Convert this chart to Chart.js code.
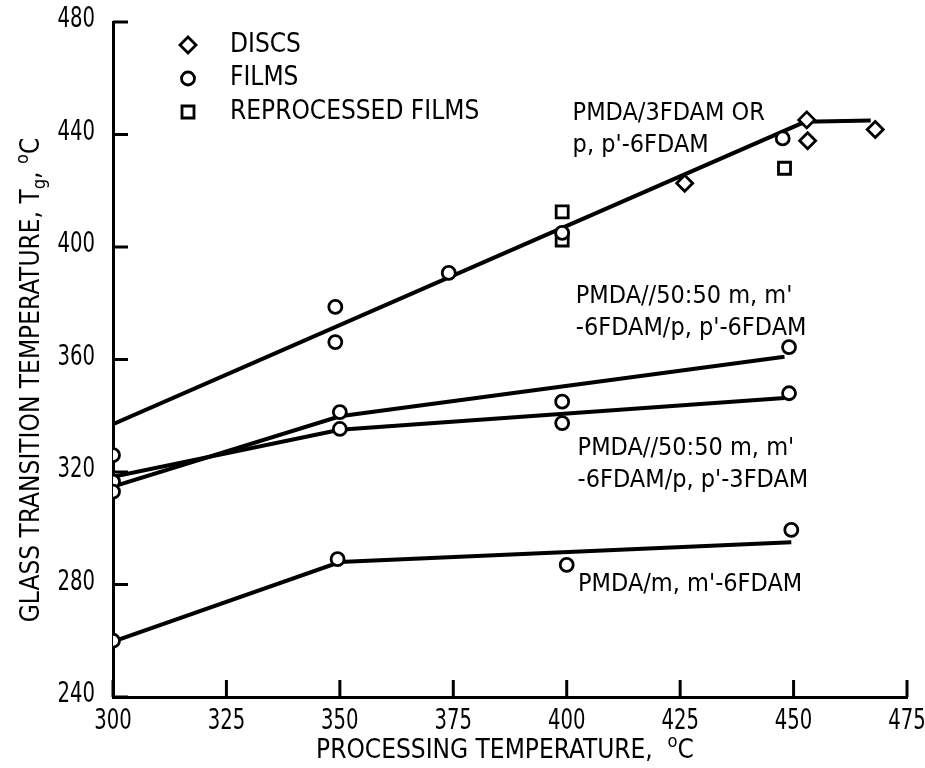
<!DOCTYPE html>
<html>
<head>
<meta charset="utf-8">
<script src="https://cdn.jsdelivr.net/npm/chart.js@4.4.1/dist/chart.umd.min.js"></script>
<style>
  html, body { margin: 0; padding: 0; background: #fff; }
  canvas { display: block; }
</style>
</head>
<body>
<canvas id="myChart" width="925" height="768"></canvas>
<script>
// axis ticks
var xTicks = [300, 325, 350, 375, 400, 425, 450, 475];
var yTicks = [240, 280, 320, 360, 400, 440, 480];

var discsX = [426, 452.9, 453.1, 468];
var discsY = [422.7, 445.2, 437.8, 441.8];

var filmsX = [300, 300, 300, 300, 349, 349, 374, 399, 447.6, 350, 350, 399, 399, 449, 449, 349.5, 400, 449.5];
var filmsY = [326, 316.6, 313, 260, 378.7, 366.2, 390.8, 405, 438.6, 341.3, 335.3, 345, 337.4, 364.4, 348, 289, 287, 299.4];

var reprocX = [399, 399, 448];
var reprocY = [412.5, 402.5, 428];

// fitted curves
var fitPX = [300, 452.5, 467];
var fitPY = [337, 444.5, 445];
var fitA_X = [300, 350, 448];
var fitA_Y = [314.8, 339.8, 361];
var fitB_X = [300, 350, 448];
var fitB_Y = [318.3, 335, 346.3];
var fitM_X = [300, 350, 449.5];
var fitM_Y = [259.7, 288, 295];

var noteText = [
  ["PMDA/3FDAM OR", "p, p'-6FDAM"],
  ["PMDA//50:50 m, m'", "-6FDAM/p, p'-6FDAM"],
  ["PMDA//50:50 m, m'", "-6FDAM/p, p'-3FDAM"],
  ["PMDA/m, m'-6FDAM"]
];
var legendText = ["DISCS", "FILMS", "REPROCESSED FILMS"];

var FONT = "'Liberation Sans Narrow', 'DejaVu Sans Condensed', 'Arial Narrow', sans-serif";

function pts(xs, ys) {
  return xs.map(function (v, i) { return { x: v, y: ys[i] }; });
}

function fitSet(xs, ys) {
  return { type: 'line', data: pts(xs, ys), showLine: true, borderColor: '#000', borderWidth: 4,
           pointRadius: 0, fill: false, tension: 0, order: 2 };
}

function markSet(xs, ys, style, r) {
  return { type: 'scatter', data: pts(xs, ys), pointStyle: style, pointRadius: r,
           pointBorderWidth: 2.8, pointBorderColor: '#000', pointBackgroundColor: '#fff', order: 1 };
}

function marker(ctx, style, cx, cy) {
  ctx.beginPath();
  if (style == 'circle') ctx.arc(cx, cy, 6.5, 0, Math.PI * 2);
  if (style == 'rect') ctx.rect(cx - 6, cy - 6, 12, 12);
  if (style == 'rectRot') { ctx.moveTo(cx, cy - 8); ctx.lineTo(cx + 8, cy); ctx.lineTo(cx, cy + 8); ctx.lineTo(cx - 8, cy); ctx.closePath(); }
  ctx.fillStyle = '#fff'; ctx.fill();
  ctx.stroke();
}

// draws the text run, with sub/sup parts, starting at x0
function richText(ctx, parts, x0, y0, size) {
  var x = x0;
  parts.forEach(function (p) {
    var s = p.mode ? size * 0.7 : size;
    var dy = p.mode == 'sub' ? size * 0.3 : (p.mode == 'sup' ? -size * 0.35 : 0);
    ctx.font = s + 'px ' + FONT;
    ctx.fillText(p.t, x, y0 + dy);
    x += ctx.measureText(p.t).width;
  });
  return x - x0;
}
function richWidth(ctx, parts, size) {
  var w = 0;
  parts.forEach(function (p) {
    ctx.font = (p.mode ? size * 0.7 : size) + 'px ' + FONT;
    w += ctx.measureText(p.t).width;
  });
  return w;
}

// narrow digits like the scan: squeeze the text sideways
function narrowText(ctx, t, x, y, align) {
  ctx.save();
  ctx.translate(x, y);
  ctx.scale(0.78, 1);
  ctx.textAlign = align;
  ctx.fillText(t, 0, 0);
  ctx.restore();
}

var decor = {
  id: 'decor',
  afterDraw: function (chart) {
    var ctx = chart.ctx, a = chart.chartArea, sx = chart.scales.x, sy = chart.scales.y;
    ctx.save();
    ctx.strokeStyle = '#000';
    ctx.fillStyle = '#000';
    ctx.lineWidth = 3;
    // tick marks pointing inward
    xTicks.forEach(function (v) {
      var px = sx.getPixelForValue(v);
      ctx.beginPath(); ctx.moveTo(px, a.bottom); ctx.lineTo(px, a.bottom - 17); ctx.stroke();
    });
    yTicks.forEach(function (v) {
      var py = sy.getPixelForValue(v);
      ctx.beginPath(); ctx.moveTo(a.left, py); ctx.lineTo(a.left + 15, py); ctx.stroke();
    });

    // tick labels
    ctx.font = '28px ' + FONT;
    ctx.textBaseline = 'middle';
    xTicks.forEach(function (v) {
      narrowText(ctx, String(v), sx.getPixelForValue(v), a.bottom + 25, 'center');
    });
    yTicks.forEach(function (v) {
      narrowText(ctx, String(v), a.left - 18, sy.getPixelForValue(v) - 2, 'right');
    });

    // legend
    ctx.lineWidth = 2.8;
    ctx.textAlign = 'left';
    var styles = ['rectRot', 'circle', 'rect'];
    legendText.forEach(function (t, i) {
      var ly = a.top + 23 + i * 33.5;
      marker(ctx, styles[i], a.left + 75, ly);
      ctx.fillStyle = '#000';
      ctx.font = '26px ' + FONT;
      ctx.fillText(t, a.left + 117, ly);
    });

    // curve labels, anchored in data units
    var anchors = [[401.3, 447.6], [402, 382.5], [402.4, 328.5], [402.5, 280]];
    ctx.fillStyle = '#000';
    ctx.font = '25px ' + FONT;
    noteText.forEach(function (lines, i) {
      var px = sx.getPixelForValue(anchors[i][0]);
      var py = sy.getPixelForValue(anchors[i][1]);
      lines.forEach(function (t, j) { ctx.fillText(t, px, py + j * 32); });
    });

    // axis titles
    var xt = [{ t: 'PROCESSING TEMPERATURE,  ' }, { t: 'o', mode: 'sup' }, { t: 'C' }];
    var w = richWidth(ctx, xt, 26);
    richText(ctx, xt, 505 - w / 2, 751, 26);

    var yt = [{ t: 'GLASS TRANSITION TEMPERATURE, T' }, { t: 'g', mode: 'sub' }, { t: ', ' }, { t: 'o', mode: 'sup' }, { t: 'C' }];
    ctx.translate(32, 380);
    ctx.rotate(-Math.PI / 2);
    w = richWidth(ctx, yt, 26);
    richText(ctx, yt, -w / 2, 0, 26);
    ctx.restore();
  }
};

var ctx = document.getElementById("myChart");
var myChart = new Chart(ctx, {
  type: 'scatter',
  data: {
    datasets: [
      fitSet(fitPX, fitPY),
      fitSet(fitA_X, fitA_Y),
      fitSet(fitB_X, fitB_Y),
      fitSet(fitM_X, fitM_Y),
      markSet(discsX, discsY, 'rectRot', 8),
      markSet(filmsX, filmsY, 'circle', 6.5),
      markSet(reprocX, reprocY, 'rect', 8.5)
    ]
  },
  options: {
    responsive: false,
    animation: false,
    layout: { padding: { top: 22, right: 18, left: 0, bottom: 0 } },
    plugins: { legend: { display: false }, tooltip: { enabled: false } },
    scales: {
      x: {
        type: 'linear', min: 300, max: 475,
        afterBuildTicks: function (s) { s.ticks = xTicks.map(function (v) { return { value: v }; }); },
        afterFit: function (s) { s.height = 71; s.paddingLeft = 0; s.paddingRight = 0; },
        grid: { display: false, drawTicks: false },
        border: { display: true, color: '#000', width: 3 },
        ticks: { display: false }
      },
      y: {
        type: 'linear', min: 240, max: 480,
        afterBuildTicks: function (s) { s.ticks = yTicks.map(function (v) { return { value: v }; }); },
        afterFit: function (s) { s.width = 113; s.paddingTop = 0; s.paddingBottom = 0; },
        grid: { display: false, drawTicks: false },
        border: { display: true, color: '#000', width: 3 },
        ticks: { display: false }
      }
    }
  },
  plugins: [decor]
});
</script>
</body>
</html>
